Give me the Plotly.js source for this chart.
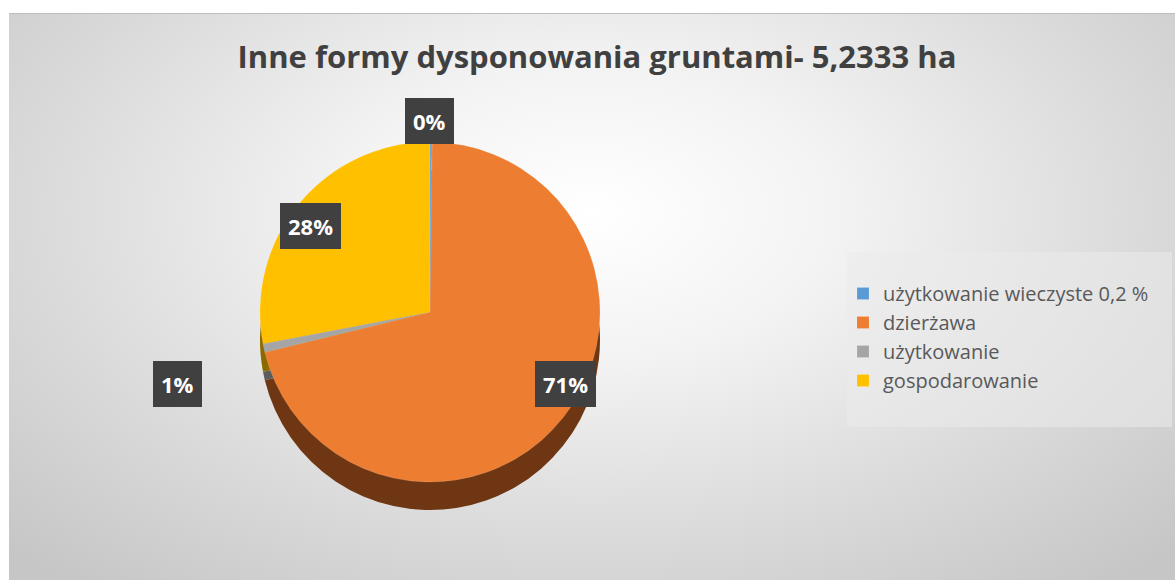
<!DOCTYPE html>
<html>
<head>
<meta charset="utf-8">
<script src="https://cdn.plot.ly/plotly-3.0.1.min.js"></script>
<style>
  html, body { margin: 0; padding: 0; background: #ffffff; }
  #bg { position: absolute; left: 9px; top: 13px; width: 1166px; height: 567px;
        background: radial-gradient(ellipse 70% 85% at 50% 35%, #ffffff 0%, #f3f3f3 30%, #dadada 68%, #c6c6c6 100%);
        border-top: 1px solid #bdbdbd; }
  #chart { position: absolute; left: 0; top: 0; width: 1175px; height: 580px; }
</style>
</head>
<body>
<div id="bg"></div>
<div id="chart"></div>
<script>
// Data (percent shares of 5,2333 ha)
const categories = ["użytkowanie wieczyste 0,2 %", "dzierżawa", "użytkowanie", "gospodarowanie"];
const shares = [0.2, 71.0, 0.8, 28.0];
const sliceColors = ["#5B9BD5", "#ED7D31", "#A5A5A5", "#FFC000"];
const sideColors = ["#2f5f8c", "#6e3612", "#5c5c5c", "#8c6a00"];
const chartTitle = "Inne formy dysponowania gruntami- 5,2333 ha";

const total = shares.reduce((a, b) => a + b, 0);
const pctText = shares.map(v => Math.round(v / total * 100) + "%");

const W = 1175, H = 580;
const px = (x) => x / W;
const py = (y) => 1 - y / H;

// pie geometry (pixels)
const cx = 430, cy = 312, r = 170, depth = 28;

const sideTrace = {
  type: "pie", values: shares, labels: categories, sort: false,
  direction: "clockwise", rotation: 0,
  marker: { colors: sideColors, line: { width: 0 } },
  textinfo: "none", hoverinfo: "skip", showlegend: false,
  domain: { x: [px(cx - r), px(cx + r)], y: [py(cy + depth + r), py(cy + depth - r)] }
};
const topTrace = {
  type: "pie", values: shares, labels: categories, sort: false,
  direction: "clockwise", rotation: 0,
  marker: { colors: sliceColors, line: { color: "rgba(255,255,255,0.25)", width: 0.5 } },
  textinfo: "none", hoverinfo: "label+percent",
  domain: { x: [px(cx - r), px(cx + r)], y: [py(cy + r), py(cy - r)] }
};

// label boxes (placed like the reference data labels)
const labelPos = [[429, 121], [565, 384], [177, 384], [310, 226]];
const annotations = pctText.map((t, i) => ({
  x: px(labelPos[i][0]), y: py(labelPos[i][1]), xref: "paper", yref: "paper",
  xanchor: "center", yanchor: "middle",
  text: "<b>" + t + "</b>", showarrow: false,
  font: { family: "Open Sans, sans-serif", size: 22, color: "#ffffff" },
  bgcolor: "#404040", borderpad: 8, borderwidth: 0
}));

const layout = {
  width: W, height: H,
  margin: { l: 0, r: 0, t: 0, b: 0 },
  paper_bgcolor: "rgba(0,0,0,0)", plot_bgcolor: "rgba(0,0,0,0)",
  title: {
    text: "<b>" + chartTitle + "</b>",
    font: { family: "Open Sans, sans-serif", size: 31, color: "#404040" },
    x: px(597), y: py(57), xanchor: "center", yanchor: "middle"
  },
  showlegend: true,
  legend: {
    x: px(843), y: py(337), xanchor: "left", yanchor: "middle",
    bgcolor: "rgba(0,0,0,0)", borderwidth: 0,
    font: { family: "Open Sans, sans-serif", size: 20, color: "#595959" },
    itemwidth: 30, traceorder: "normal"
  },
  shapes: [{
    type: "rect", xref: "paper", yref: "paper", layer: "below",
    x0: px(847), x1: px(1172), y0: py(427), y1: py(252),
    fillcolor: "rgba(235,235,235,0.55)", line: { width: 0 }
  }],
  annotations: annotations
};

Plotly.newPlot("chart", [sideTrace, topTrace], layout, { displayModeBar: false, staticPlot: true });
</script>
</body>
</html>
